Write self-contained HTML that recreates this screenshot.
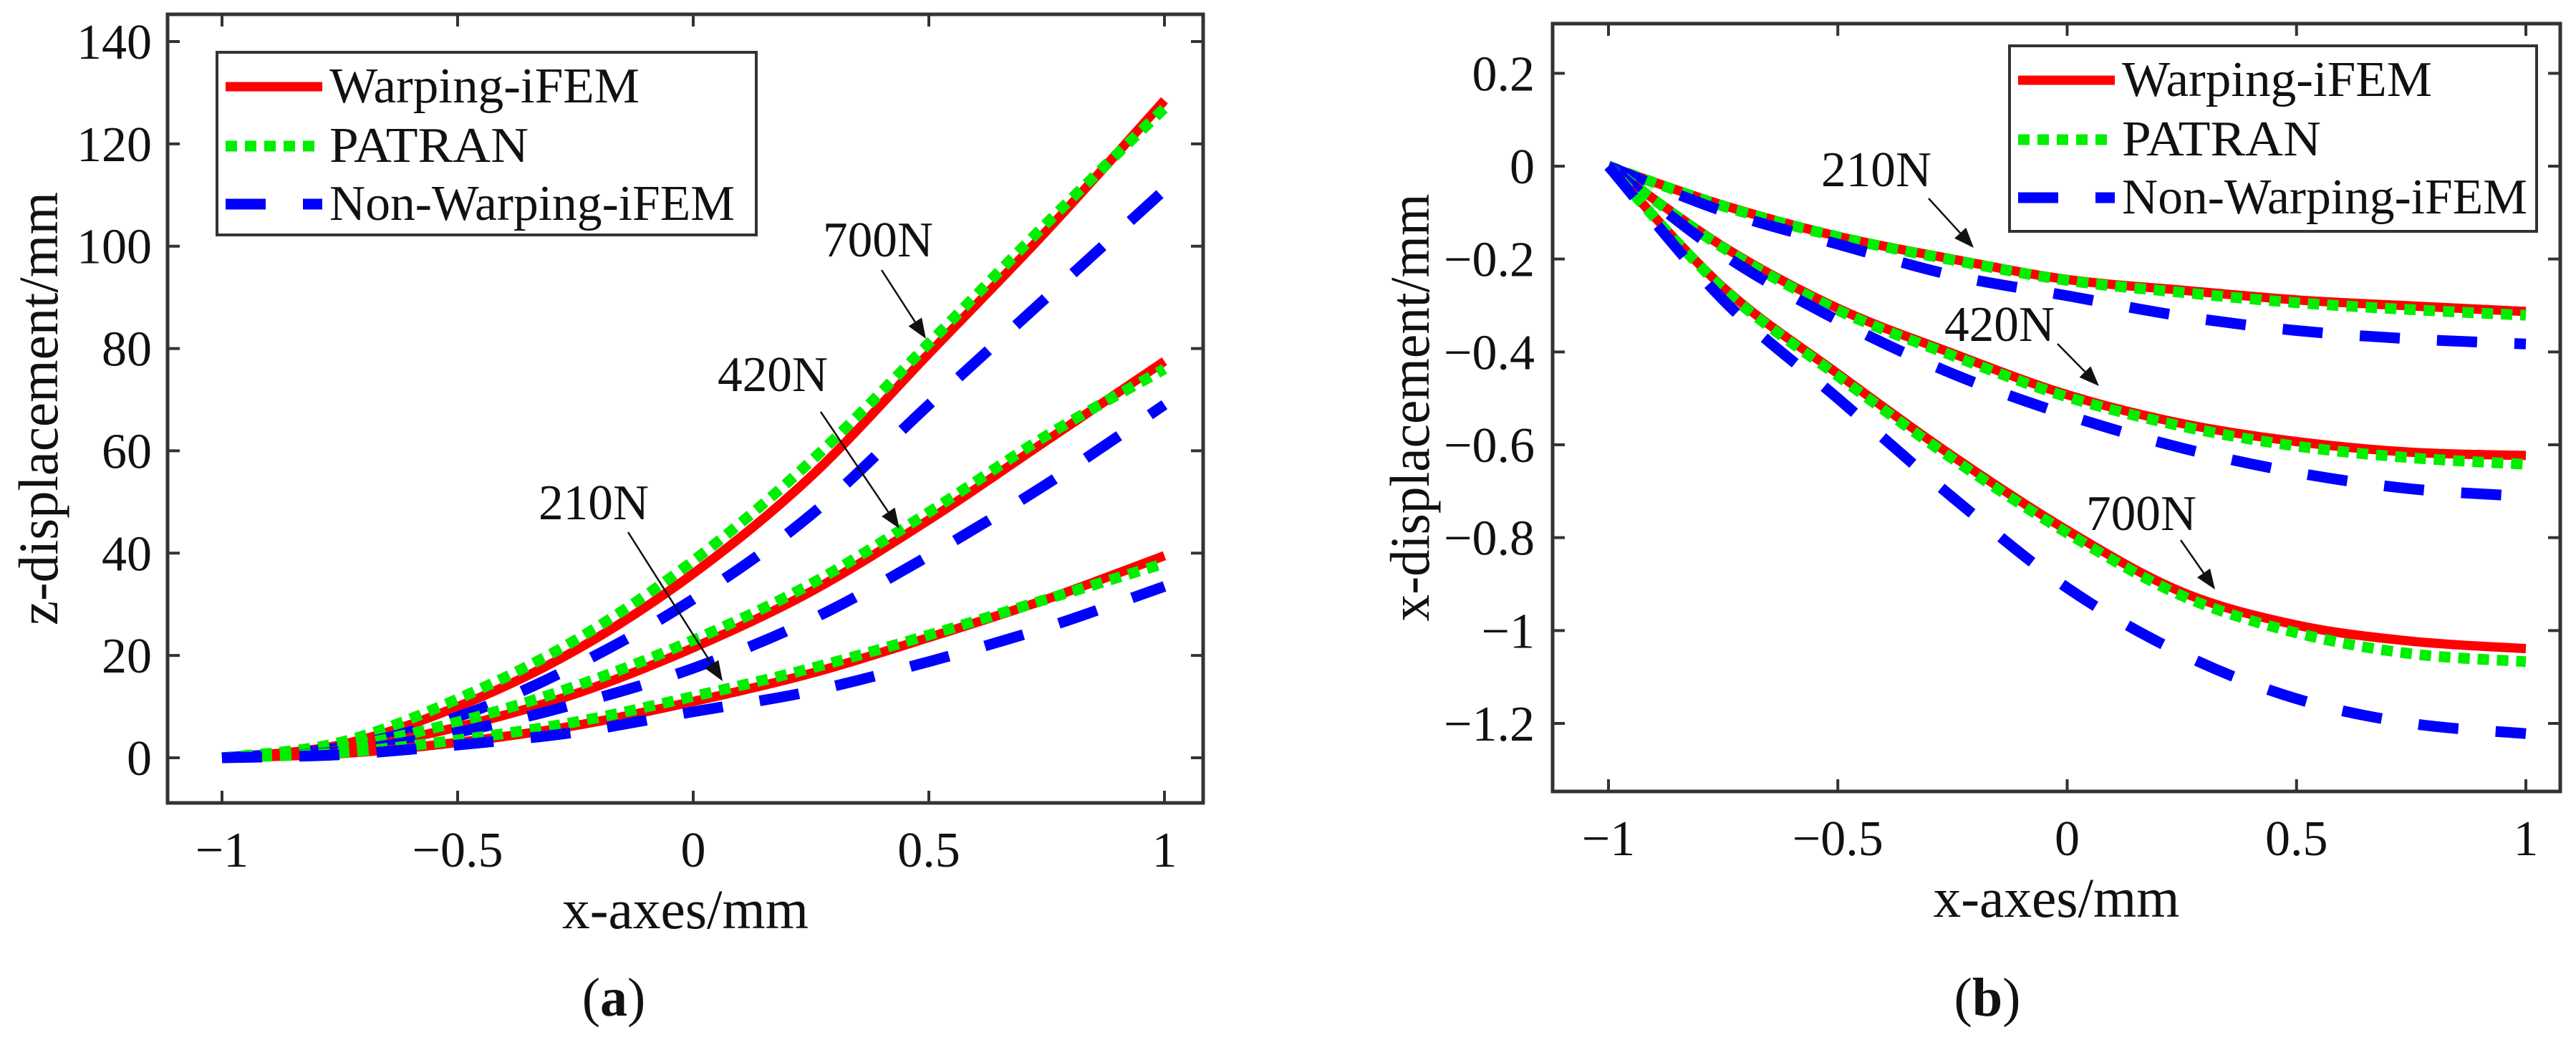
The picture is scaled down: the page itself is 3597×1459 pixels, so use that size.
<!DOCTYPE html>
<html><head><meta charset="utf-8"><style>
html,body{margin:0;padding:0;background:#fff;}
svg{display:block;font-family:"Liberation Serif",serif;}
</style></head>
<body>
<svg id="fig" width="3597" height="1459" viewBox="0 0 3597 1459" xmlns="http://www.w3.org/2000/svg">
<rect width="3597" height="1459" fill="#fff"/>
</svg>
<script>
// ---------- Data ----------
const xPts = [-1, -0.75, -0.5, -0.25, 0, 0.25, 0.5, 0.75, 1];
// chart (a): z-displacement
const a700W = [0, 2.5, 10, 21, 36, 55, 79, 103, 128.5];
const a700P = [0, 3, 11.5, 23, 38.5, 58, 81, 104.5, 127];
const a700N = [0, 2, 8, 18, 31, 47.5, 69, 90, 111];
const a420W = [0, 1.5, 6, 12.5, 21.5, 32.5, 46.5, 62, 77.5];
const a420P = [0, 2, 7, 14, 23, 34, 48, 63, 76];
const a420N = [0, 1.2, 5, 10.5, 17.5, 27, 39.5, 53.5, 69];
const a210W = [0, 0.8, 3, 6.3, 11, 16.5, 23.5, 31, 39.5];
const a210P = [0, 1, 3.5, 7, 12, 17.5, 24, 31, 38];
const a210N = [0, 0.6, 2.5, 5, 9, 13, 18.8, 25.5, 33.5];
// chart (b): x-displacement
const b210W = [0, -0.084, -0.151, -0.2, -0.244, -0.267, -0.288, -0.301, -0.313];
const b210P = [0, -0.086, -0.152, -0.202, -0.246, -0.272, -0.294, -0.309, -0.321];
const b210N = [0, -0.097, -0.168, -0.235, -0.279, -0.323, -0.354, -0.372, -0.383];
const b420W = [0, -0.173, -0.306, -0.403, -0.492, -0.554, -0.593, -0.616, -0.623];
const b420P = [0, -0.176, -0.31, -0.408, -0.497, -0.56, -0.603, -0.628, -0.642];
const b420N = [0, -0.19, -0.332, -0.447, -0.536, -0.607, -0.66, -0.695, -0.711];
const b700W = [0, -0.261, -0.447, -0.624, -0.784, -0.917, -0.988, -1.023, -1.039];
const b700P = [0, -0.264, -0.452, -0.63, -0.79, -0.925, -1.005, -1.05, -1.067];
const b700N = [0, -0.288, -0.5, -0.713, -0.908, -1.05, -1.147, -1.2, -1.222];
const xTicks = [-1, -0.5, 0, 0.5, 1];
const xTickLabels = ["\u22121", "\u22120.5", "0", "0.5", "1"];
const aYTicks = [0, 20, 40, 60, 80, 100, 120, 140];
const aYTickLabels = ["0", "20", "40", "60", "80", "100", "120", "140"];
const bYTicks = [0.2, 0, -0.2, -0.4, -0.6, -0.8, -1, -1.2];
const bYTickLabels = ["0.2", "0", "\u22120.2", "\u22120.4", "\u22120.6", "\u22120.8", "\u22121", "\u22121.2"];
const seriesNames = ["Warping-iFEM", "PATRAN", "Non-Warping-iFEM"];

const NS = "http://www.w3.org/2000/svg";
const svg = document.getElementById("fig");
function mk(tag, attrs, parent) {
  const e = document.createElementNS(NS, tag);
  for (const k in attrs) e.setAttribute(k, attrs[k]);
  (parent || svg).appendChild(e);
  return e;
}
const styles = [
  {stroke: "#ff0000", w: 13, dash: null},
  {stroke: "#00ee00", w: 15, dash: "16 11"},
  {stroke: "#0000ff", w: 15, dash: "56 52"}
];

function smoothPath(px, py) {
  let d = "M" + px[0].toFixed(1) + "," + py[0].toFixed(1);
  for (let i = 0; i < px.length - 1; i++) {
    const x0 = px[Math.max(0, i - 1)], y0 = py[Math.max(0, i - 1)];
    const x1 = px[i], y1 = py[i], x2 = px[i + 1], y2 = py[i + 1];
    const x3 = px[Math.min(px.length - 1, i + 2)], y3 = py[Math.min(px.length - 1, i + 2)];
    const c1x = x1 + (x2 - x0) / 6, c1y = y1 + (y2 - y0) / 6;
    const c2x = x2 - (x3 - x1) / 6, c2y = y2 - (y3 - y1) / 6;
    d += " C" + c1x.toFixed(1) + "," + c1y.toFixed(1) + " " + c2x.toFixed(1) + "," + c2y.toFixed(1) + " " + x2.toFixed(1) + "," + y2.toFixed(1);
  }
  return d;
}

function chart(cfg) {
  const g = mk("g", {});
  
  
  const sx = v => cfg.x1px + (v + 1) / 2 * (cfg.x2px - cfg.x1px);
  const sy = v => cfg.y0px + (v - cfg.yRef0) / (cfg.yRef1 - cfg.yRef0) * (cfg.y1px - cfg.y0px);
  const L = cfg.box[0], T = cfg.box[1], R = cfg.box[2], B = cfg.box[3];
  // curves
  const sets = cfg.sets;
  sets.forEach((grp, gi) => {
    grp.forEach((arr, si) => {
      const st = styles[si];
      const p = mk("path", {d: smoothPath(xPts.map(sx), arr.map(sy)), fill: "none", stroke: st.stroke, "stroke-width": st.w}, g);
      if (st.dash) p.setAttribute("stroke-dasharray", st.dash);
      
      
    });
  });
  // axes box
  const box = mk("rect", {x: L, y: T, width: R - L, height: B - T, fill: "none", stroke: "#333", "stroke-width": 5}, g);
  
  
  // x ticks
  xTicks.forEach((v, i) => {
    const x = sx(v);
    mk("line", {x1: x, y1: B, x2: x, y2: B - 17, stroke: "#333", "stroke-width": 4}, g);
    mk("line", {x1: x, y1: T, x2: x, y2: T + 17, stroke: "#333", "stroke-width": 4}, g);
    const t = mk("text", {x: x, y: B + 89, "font-size": 70, "text-anchor": "middle", fill: "#111"}, g);
    t.textContent = xTickLabels[i];
    
    
  });
  cfg.yTicks.forEach((v, i) => {
    const y = sy(v);
    mk("line", {x1: L, y1: y, x2: L + 17, y2: y, stroke: "#333", "stroke-width": 4}, g);
    mk("line", {x1: R, y1: y, x2: R - 17, y2: y, stroke: "#333", "stroke-width": 4}, g);
    const t = mk("text", {x: cfg.yLabelRight, y: y + 24, "font-size": 70, "text-anchor": "end", fill: "#111"}, g);
    t.textContent = cfg.yTickLabels[i];
    
    
  });
  // axis titles
  const xt = mk("text", {x: (L + R) / 2, y: cfg.xTitleY, "font-size": 78, "text-anchor": "middle", fill: "#111", textLength: 344, lengthAdjust: "spacingAndGlyphs"}, g);
  xt.textContent = "x-axes/mm";
  
  
  const yt = mk("text", {x: 0, y: 0, "font-size": 78, "text-anchor": "middle", fill: "#111", textLength: cfg.yTitleLen, lengthAdjust: "spacingAndGlyphs", transform: "translate(" + cfg.yTitleX + "," + ((T + B) / 2) + ") rotate(-90)"}, g);
  yt.textContent = cfg.yTitle;
  
  
  // annotations
  cfg.annots.forEach(a => {
    const t = mk("text", {x: a.tx, y: a.ty, "font-size": 70, fill: "#111", textLength: 154, lengthAdjust: "spacingAndGlyphs"}, g);
    t.textContent = a.label;
    
    
    const dx = a.x2 - a.x1, dy = a.y2 - a.y1, len = Math.hypot(dx, dy);
    const ux = dx / len, uy = dy / len;
    const hx = a.x2 - ux * 28, hy = a.y2 - uy * 28;
    const ln = mk("line", {x1: a.x1, y1: a.y1, x2: hx, y2: hy, stroke: "#111", "stroke-width": 2.5}, g);
    
    
    mk("polygon", {points: a.x2 + "," + a.y2 + " " + (hx - uy * 11) + "," + (hy + ux * 11) + " " + (hx + uy * 11) + "," + (hy - ux * 11), fill: "#111"}, g);
  });
  // legend
  const lg = mk("g", {}, g);
  
  
  const [lx, ly, lr, lb] = cfg.legend;
  mk("rect", {x: lx, y: ly, width: lr - lx, height: lb - ly, fill: "#fff", stroke: "#333", "stroke-width": 4}, lg);
  const rows = [70, 153, 234];
  const widths = [433, 278, 566];
  seriesNames.forEach((nm, i) => {
    const st = styles[i];
    const yy = ly + rows[i] - 22;
    const ln = mk("line", {x1: lx + 12, y1: yy, x2: lx + 147, y2: yy, stroke: st.stroke, "stroke-width": st.w}, lg);
    if (st.dash) ln.setAttribute("stroke-dasharray", st.dash);
    
    
    const t = mk("text", {x: lx + 157, y: ly + rows[i], "font-size": 70, fill: "#111", textLength: widths[i], lengthAdjust: "spacingAndGlyphs"}, lg);
    t.textContent = nm;
    
    
  });
  // caption
  const cap = mk("text", {x: cfg.capX, y: 1418, "font-size": 76, "text-anchor": "middle", fill: "#111"}, g);
  cap.innerHTML = '(<tspan font-weight="bold">' + cfg.cap + '</tspan>)';
  
  
}

chart({
  name: "chart-a", x1px: 310, x2px: 1626, y0px: 1058, y1px: 58, yRef0: 0, yRef1: 140,
  box: [234, 20, 1680, 1121], yTicks: aYTicks, yTickLabels: aYTickLabels, yLabelRight: 212,
  xTitleY: 1296, yTitle: "z-displacement/mm", yTitleX: 80, yTitleLen: 605,
  loads: ["700N", "420N", "210N"],
  sets: [[a700W, a700P, a700N], [a420W, a420P, a420N], [a210W, a210P, a210N]],
  annots: [
    {label: "700N", tx: 1149, ty: 358, x1: 1231, y1: 377, x2: 1293, y2: 473},
    {label: "420N", tx: 1002, ty: 546, x1: 1146, y1: 575, x2: 1256, y2: 738},
    {label: "210N", tx: 752, ty: 725, x1: 877, y1: 743, x2: 1009, y2: 951}
  ],
  legend: [303, 73, 1056, 328], capX: 857, cap: "a"
});
chart({
  name: "chart-b", x1px: 2246, x2px: 3527, y0px: 232, y1px: 1010, yRef0: 0, yRef1: -1.2,
  box: [2168, 33, 3575, 1105], yTicks: bYTicks, yTickLabels: bYTickLabels, yLabelRight: 2143,
  xTitleY: 1280, yTitle: "x-displacement/mm", yTitleX: 1995, yTitleLen: 597,
  loads: ["210N", "420N", "700N"],
  sets: [[b210W, b210P, b210N], [b420W, b420P, b420N], [b700W, b700P, b700N]],
  annots: [
    {label: "210N", tx: 2543, ty: 260, x1: 2693, y1: 277, x2: 2756, y2: 346},
    {label: "420N", tx: 2715, ty: 476, x1: 2873, y1: 480, x2: 2931, y2: 539},
    {label: "700N", tx: 2913, ty: 740, x1: 3045, y1: 754, x2: 3093, y2: 823}
  ],
  legend: [2806, 64, 3542, 323], capX: 2775, cap: "b"
});
</script>
</body></html>
